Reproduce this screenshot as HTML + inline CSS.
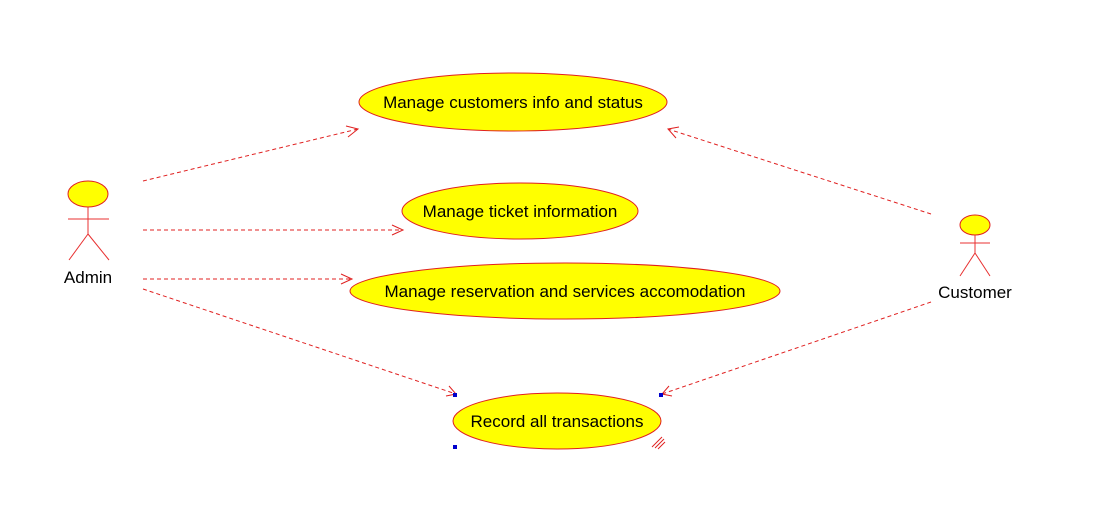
<!DOCTYPE html>
<html><head><style>body{margin:0;background:#fff}</style></head><body>
<svg width="1093" height="523" xmlns="http://www.w3.org/2000/svg" font-family="Liberation Sans, Arial, sans-serif">
<rect width="1093" height="523" fill="#fff"/>
<g fill="#ffff00" stroke="#e02020" stroke-width="1">
<ellipse cx="513" cy="102" rx="154" ry="29"/>
<ellipse cx="520" cy="211" rx="118" ry="28"/>
<ellipse cx="565" cy="291" rx="215" ry="28"/>
<ellipse cx="557" cy="421" rx="104" ry="28"/>
<ellipse cx="88" cy="194" rx="20" ry="13"/>
<ellipse cx="975" cy="225" rx="15" ry="10"/>
</g>
<g stroke="#e83030" stroke-width="1" fill="none">
<line x1="88" y1="207" x2="88" y2="234"/><line x1="68" y1="219" x2="109" y2="219"/>
<line x1="88" y1="234" x2="69" y2="260"/><line x1="88" y1="234" x2="109" y2="260"/>
<line x1="975" y1="235" x2="975" y2="253"/><line x1="960" y1="243" x2="990" y2="243"/>
<line x1="975" y1="253" x2="960" y2="276"/><line x1="975" y1="253" x2="990" y2="276"/>
</g>
<g stroke="#e02020" stroke-width="1" fill="none" stroke-dasharray="4,3">
<line x1="143" y1="181" x2="358" y2="129"/>
<line x1="143" y1="230" x2="403" y2="230"/>
<line x1="143" y1="279" x2="352" y2="279"/>
<line x1="143" y1="289" x2="456" y2="394"/>
<line x1="931" y1="214" x2="668" y2="129"/>
<line x1="931" y1="302" x2="662" y2="394"/>
</g>
<g stroke="#e02020" stroke-width="1" fill="none">
<polyline points="346,126 358,129 348,137"/>
<polyline points="392,225 403,230 392,235"/>
<polyline points="341,274 352,279 341,284"/>
<polyline points="449,386 456,394 446,396"/>
<polyline points="679,127 668,129 676,138"/>
<polyline points="669,386 662,394 672,396"/>
<line x1="652" y1="447" x2="662" y2="437"/><line x1="655" y1="448" x2="664" y2="439"/><line x1="658" y1="449" x2="665" y2="442"/>
</g>
<g fill="#0000cc"><rect x="453" y="393" width="4" height="4"/><rect x="659" y="393" width="4" height="4"/><rect x="453" y="445" width="4" height="4"/></g>
<g font-size="17" fill="#000" text-anchor="middle">
<text x="513" y="108">Manage customers info and status</text>
<text x="520" y="217">Manage ticket information</text>
<text x="565" y="297">Manage reservation and services accomodation</text>
<text x="557" y="427">Record all transactions</text>
<text x="88" y="283">Admin</text>
<text x="975" y="298">Customer</text>
</g>
</svg>
</body></html>
